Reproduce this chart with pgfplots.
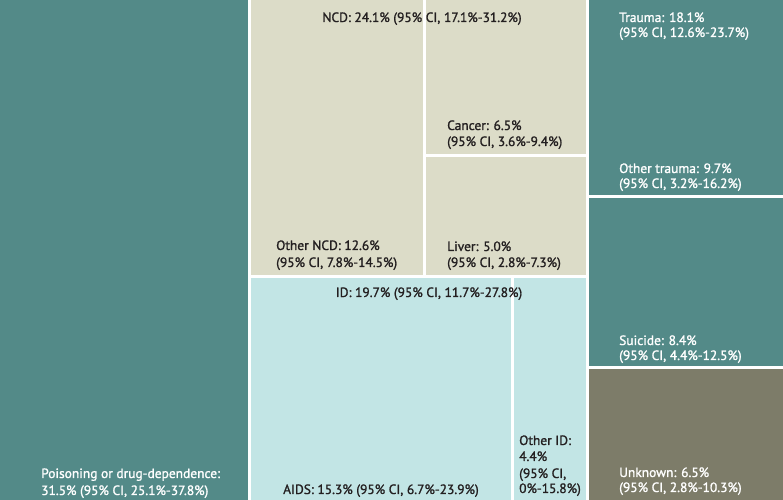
\documentclass[border=0pt]{standalone}
\usepackage{pgfplots}
\pgfplotsset{compat=1.18}
\usepackage{fontspec}
\setmainfont{PT Sans}[RawFeature={embolden=1.3}]
\definecolor{tealc}{HTML}{538A88}
\definecolor{beigec}{HTML}{DCDCC8}
\definecolor{cyanc}{HTML}{C2E5E5}
\definecolor{unkc}{HTML}{7D7C69}
\definecolor{txt}{HTML}{231F20}
\begin{document}
\begin{tikzpicture}
\begin{axis}[
    width=783bp, height=500bp, scale only axis,
    xmin=0, xmax=783, ymin=0, ymax=500,
    y dir=reverse, hide axis, clip=false,
]
% background
\addplot[fill=white, draw=none] coordinates {(0,0)(783,0)(783,500)(0,500)} -- cycle;
% poisoning
\addplot[fill=tealc, draw=none] coordinates {(0,0)(248,0)(248,500)(0,500)} -- cycle;
% NCD: other NCD, cancer, liver
\addplot[fill=beigec, draw=none] coordinates {(251,0)(423,0)(423,275)(251,275)} -- cycle;
\addplot[fill=beigec, draw=none] coordinates {(426,0)(586,0)(586,154)(426,154)} -- cycle;
\addplot[fill=beigec, draw=none] coordinates {(426,157)(586,157)(586,275)(426,275)} -- cycle;
% ID: AIDS, other ID
\addplot[fill=cyanc, draw=none] coordinates {(251,278)(511,278)(511,500)(251,500)} -- cycle;
\addplot[fill=cyanc, draw=none] coordinates {(514,278)(586,278)(586,500)(514,500)} -- cycle;
% trauma: other trauma, suicide
\addplot[fill=tealc, draw=none] coordinates {(589,0)(783,0)(783,195)(589,195)} -- cycle;
\addplot[fill=tealc, draw=none] coordinates {(589,198)(783,198)(783,366)(589,366)} -- cycle;
% unknown
\addplot[fill=unkc, draw=none] coordinates {(589,369)(783,369)(783,500)(589,500)} -- cycle;

\tikzset{lab/.style={anchor=base west, inner sep=0pt, font=\fontsize{13.5}{16}\selectfont}}
\begin{scope}[every node/.append style={lab, text=white}]
\node at (axis cs:41,478) {Poisoning or drug-dependence:};
\node at (axis cs:41,495) {31.5\% (95\% CI, 25.1\%-37.8\%)};
\node at (axis cs:619,22) {Trauma: 18.1\%};
\node at (axis cs:619,37) {(95\% CI, 12.6\%-23.7\%)};
\node at (axis cs:619,173) {Other trauma: 9.7\%};
\node at (axis cs:619,188) {(95\% CI, 3.2\%-16.2\%)};
\node at (axis cs:619,345) {Suicide: 8.4\%};
\node at (axis cs:619,360) {(95\% CI, 4.4\%-12.5\%)};
\node at (axis cs:619,477) {Unknown: 6.5\%};
\node at (axis cs:619,492) {(95\% CI, 2.8\%-10.3\%)};
\end{scope}
\begin{scope}[every node/.append style={lab, text=txt}]
\node[anchor=base] at (axis cs:422,22) {NCD: 24.1\% (95\% CI, 17.1\%-31.2\%)};
\node at (axis cs:447,130) {Cancer: 6.5\%};
\node at (axis cs:447,146) {(95\% CI, 3.6\%-9.4\%)};
\node at (axis cs:276,250) {Other NCD: 12.6\%};
\node at (axis cs:276,267) {(95\% CI, 7.8\%-14.5\%)};
\node at (axis cs:447,251) {Liver: 5.0\%};
\node at (axis cs:447,267) {(95\% CI, 2.8\%-7.3\%)};
\node[anchor=base] at (axis cs:429,297) {ID: 19.7\% (95\% CI, 11.7\%-27.8\%)};
\node at (axis cs:283,494) {AIDS: 15.3\% (95\% CI, 6.7\%-23.9\%)};
\node at (axis cs:519,445) {Other ID:};
\node at (axis cs:519,461) {4.4\%};
\node at (axis cs:519,478) {(95\% CI,};
\node at (axis cs:519,493) {0\%-15.8\%)};
\end{scope}
\end{axis}
\end{tikzpicture}
\end{document}
